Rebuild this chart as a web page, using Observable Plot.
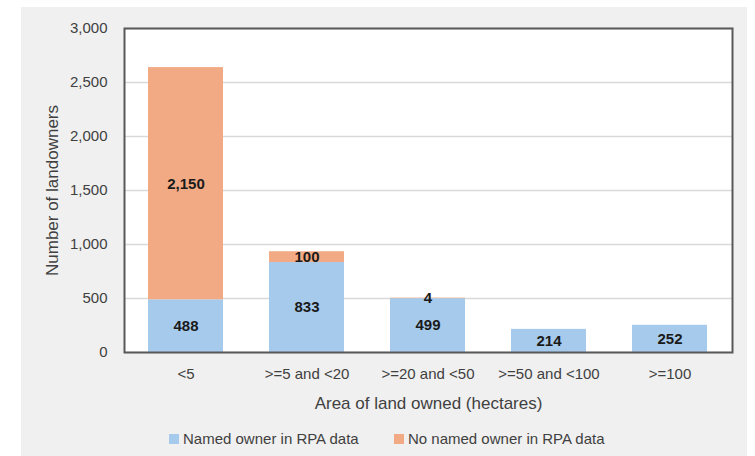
<!DOCTYPE html>
<html>
<head>
<meta charset="utf-8">
<script src="https://cdn.jsdelivr.net/npm/d3@7"></script>
<script src="https://cdn.jsdelivr.net/npm/@observablehq/plot@0.6"></script>
<style>
  html, body { margin: 0; padding: 0; background: #ffffff; }
  #wrap { position: relative; width: 755px; height: 456px; overflow: hidden; font-family: "Liberation Sans", Arial, sans-serif; }
  #panel { position: absolute; left: 21px; top: 7px; width: 726px; height: 449px; background: #f0f0f0; }
  #chart { position: absolute; left: 0; top: 0; }
  #legend { position: absolute; left: 0; top: 430px; width: 755px; height: 18px; font-size: 15px; color: #404040; }
  .item { position: absolute; top: 0; line-height: 18px; white-space: nowrap; }
  .sw { position: absolute; top: 4px; width: 10px; height: 10px; }
</style>
</head>
<body>
<div id="wrap">
  <div id="panel"></div>
  <div id="chart"></div>
  <div id="legend"></div>
</div>
<script>
const categories = ["<5", ">=5 and <20", ">=20 and <50", ">=50 and <100", ">=100"];
const named = [488, 833, 499, 214, 252];
const unnamed = [2150, 100, 4, 0, 0];
const seriesNames = ["Named owner in RPA data", "No named owner in RPA data"];
const seriesColors = ["#a6caec", "#f2aa84"];
const yTicks = [0, 500, 1000, 1500, 2000, 2500, 3000];
const xTitle = "Area of land owned (hectares)";
const yTitle = "Number of landowners";

const data = [];
categories.forEach((c, i) => {
  data.push({cat: c, series: seriesNames[0], value: named[i]});
  data.push({cat: c, series: seriesNames[1], value: unnamed[i]});
});
const fmt = d3.format(",");

const chart = Plot.plot({
  width: 755,
  height: 420,
  marginLeft: 124,
  marginRight: 23,
  marginTop: 28,
  marginBottom: 68,
  style: {fontFamily: "'Liberation Sans', Arial, sans-serif", fontSize: "15px", color: "#404040", background: "transparent"},
  x: {domain: categories, paddingInner: 0.38, paddingOuter: 0.19, label: null},
  y: {domain: [0, 3000], label: null},
  color: {domain: seriesNames, range: seriesColors},
  marks: [
    Plot.frame({fill: "white", stroke: "none"}),
    Plot.gridY(yTicks, {stroke: "#d9d9d9", strokeOpacity: 1, strokeWidth: 1.5}),
    Plot.barY(data, {x: "cat", y: "value", fill: "series"}),
    Plot.text(data.filter(d => d.value > 0), Plot.stackY({
      x: "cat", y: "value", z: "series",
      text: d => fmt(d.value), fontWeight: "bold", fontSize: 15, fill: "#1a1a1a"
    })),
    Plot.frame({stroke: "#595959", strokeWidth: 2}),
    Plot.axisY(yTicks, {tickSize: 0, tickPadding: 17, tickFormat: fmt, label: null, fontSize: 15, fill: "#404040"}),
    Plot.axisX({tickSize: 0, tickPadding: 16, label: null, fontSize: 15, fill: "#404040"}),
    Plot.text([xTitle], {text: d => d, frameAnchor: "bottom", dy: 51, lineAnchor: "middle", fontSize: 17, fill: "#404040"}),
    Plot.text([yTitle], {text: d => d, frameAnchor: "left", dx: -72, rotate: -90, textAnchor: "middle", lineAnchor: "middle", fontSize: 17, fill: "#404040"})
  ]
});
document.getElementById("chart").appendChild(chart);

const legend = document.getElementById("legend");
const positions = [{sw: 169, tx: 183}, {sw: 394, tx: 408}];
seriesNames.forEach((name, i) => {
  const sw = document.createElement("div");
  sw.className = "sw";
  sw.style.left = positions[i].sw + "px";
  sw.style.background = seriesColors[i];
  legend.appendChild(sw);
  const t = document.createElement("div");
  t.className = "item";
  t.style.left = positions[i].tx + "px";
  t.textContent = name;
  legend.appendChild(t);
});
</script>
</body>
</html>
